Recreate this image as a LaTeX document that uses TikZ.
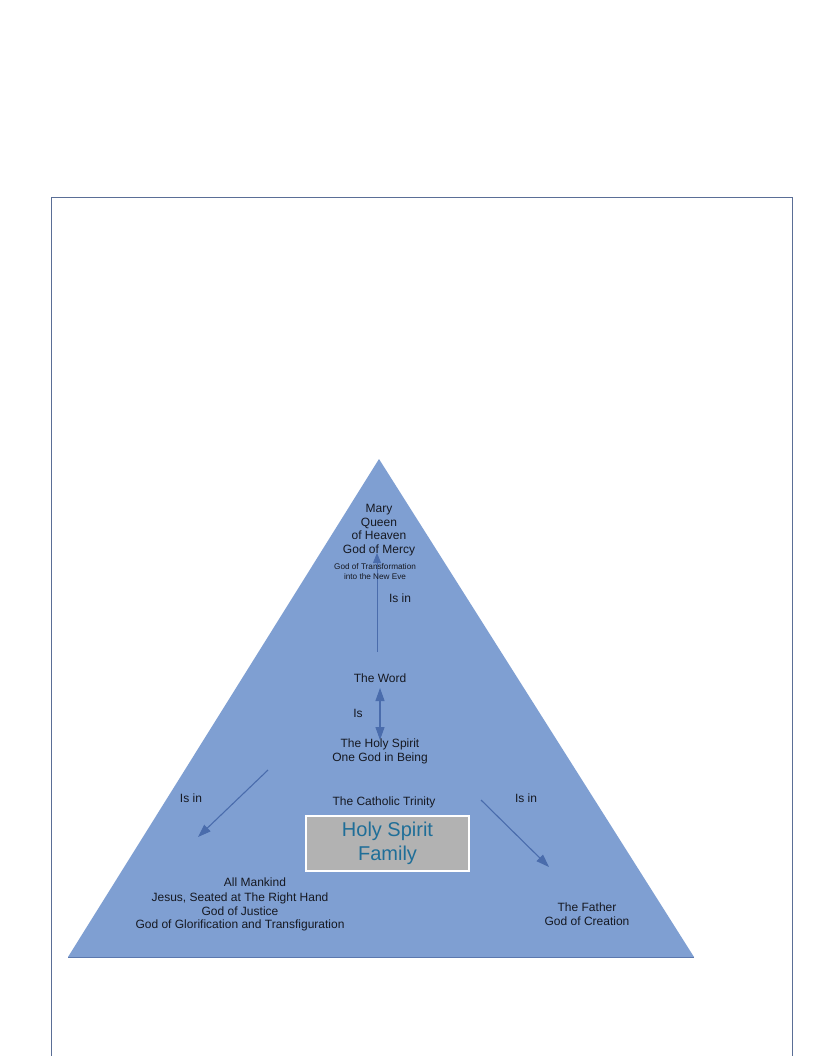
\documentclass[tikz,border=0pt]{standalone}
\usepackage{fontspec}
\setmainfont{Liberation Sans}
\usetikzlibrary{arrows.meta}
\definecolor{trifill}{HTML}{7F9FD2}
\definecolor{triedge}{HTML}{5B78AE}
\definecolor{arrowc}{HTML}{4A6CAC}
\definecolor{framec}{HTML}{5A6E96}
\definecolor{txt}{HTML}{161922}
\definecolor{boxfill}{HTML}{B2B2B2}
\definecolor{boxtxt}{HTML}{1F6E98}
\tikzset{
  lbl/.style={font=\fontsize{12}{13.7}\selectfont, text=txt, align=center, inner sep=0pt},
  tiny/.style={font=\fontsize{8.2}{10}\selectfont, text=txt, align=center, inner sep=0pt},
  conn/.style={draw=arrowc, line width=1.1pt, -{Triangle[length=13pt,width=9pt]}},
  thinconn/.style={draw=arrowc, line width=0.8pt, -{Triangle[length=10pt,width=8pt]}},
  dconn/.style={draw=arrowc, line width=1.1pt, {Triangle[length=13pt,width=9pt]}-{Triangle[length=13pt,width=9pt]}},
  famebox/.style={fill=boxfill, draw=white, line width=1.2pt, minimum width=163pt, minimum height=55pt, inner sep=0pt,
    font=\fontsize{20}{24}\selectfont, text=boxtxt, align=center}
}
\begin{document}
\begin{tikzpicture}[x=1pt,y=-1pt]
\useasboundingbox (0,0) rectangle (816,1056);
\fill[white] (0,0) rectangle (816,1056);
% frame
\draw[framec, line width=1pt] (51,1057) -- (51,198) -- (792,198) -- (792,1057);
% triangle
\coordinate (apex) at (379,459);
\coordinate (bl) at (68,957);
\coordinate (br) at (694,957);
\fill[trifill] (apex) -- (br) -- (bl) -- cycle;
\draw[triedge, line width=0.8pt] (bl) -- (br);
% connectors (drawn beneath the texts)
\coordinate (v1s) at (377,652);
\coordinate (v1e) at (377,553);
\draw[thinconn] (v1s) -- (v1e);
\coordinate (d1) at (380,688);
\coordinate (d2) at (380,740);
\draw[dconn] (d1) -- (d2);
\coordinate (l1s) at (268,770);
\coordinate (l1e) at (198,837);
\draw[conn] (l1s) -- (l1e);
\coordinate (r1s) at (481,800);
\coordinate (r1e) at (549,867);
\draw[conn] (r1s) -- (r1e);
% texts
\node[lbl] (mary) at (379,530) {Mary\\Queen\\of Heaven\\God of Mercy};
\node[tiny] (transf) at (375,572) {God of Transformation\\into the New Eve};
\node[lbl] (word) at (380,678) {The Word};
\node[lbl] (holy) at (380,751.5) {The Holy Spirit\\One God in Being};
\node[lbl] (trinity) at (384,802) {The Catholic Trinity};
\node[famebox] (family) at (387.5,843.5) {Holy Spirit\\Family};
\node[lbl] (mankind) at (255,882) {All Mankind};
\node[lbl] (jesus) at (240,912) {Jesus, Seated at The Right Hand\\God of Justice\\God of Glorification and Transfiguration};
\node[lbl] (father) at (587,914.5) {The Father\\God of Creation};
% labels
\node[lbl] (isin1) at (400,598) {Is in};
\node[lbl] (is) at (358,713) {Is};
\node[lbl] (isin2) at (191,798) {Is in};
\node[lbl] (isin3) at (526,798) {Is in};
\end{tikzpicture}
\end{document}
